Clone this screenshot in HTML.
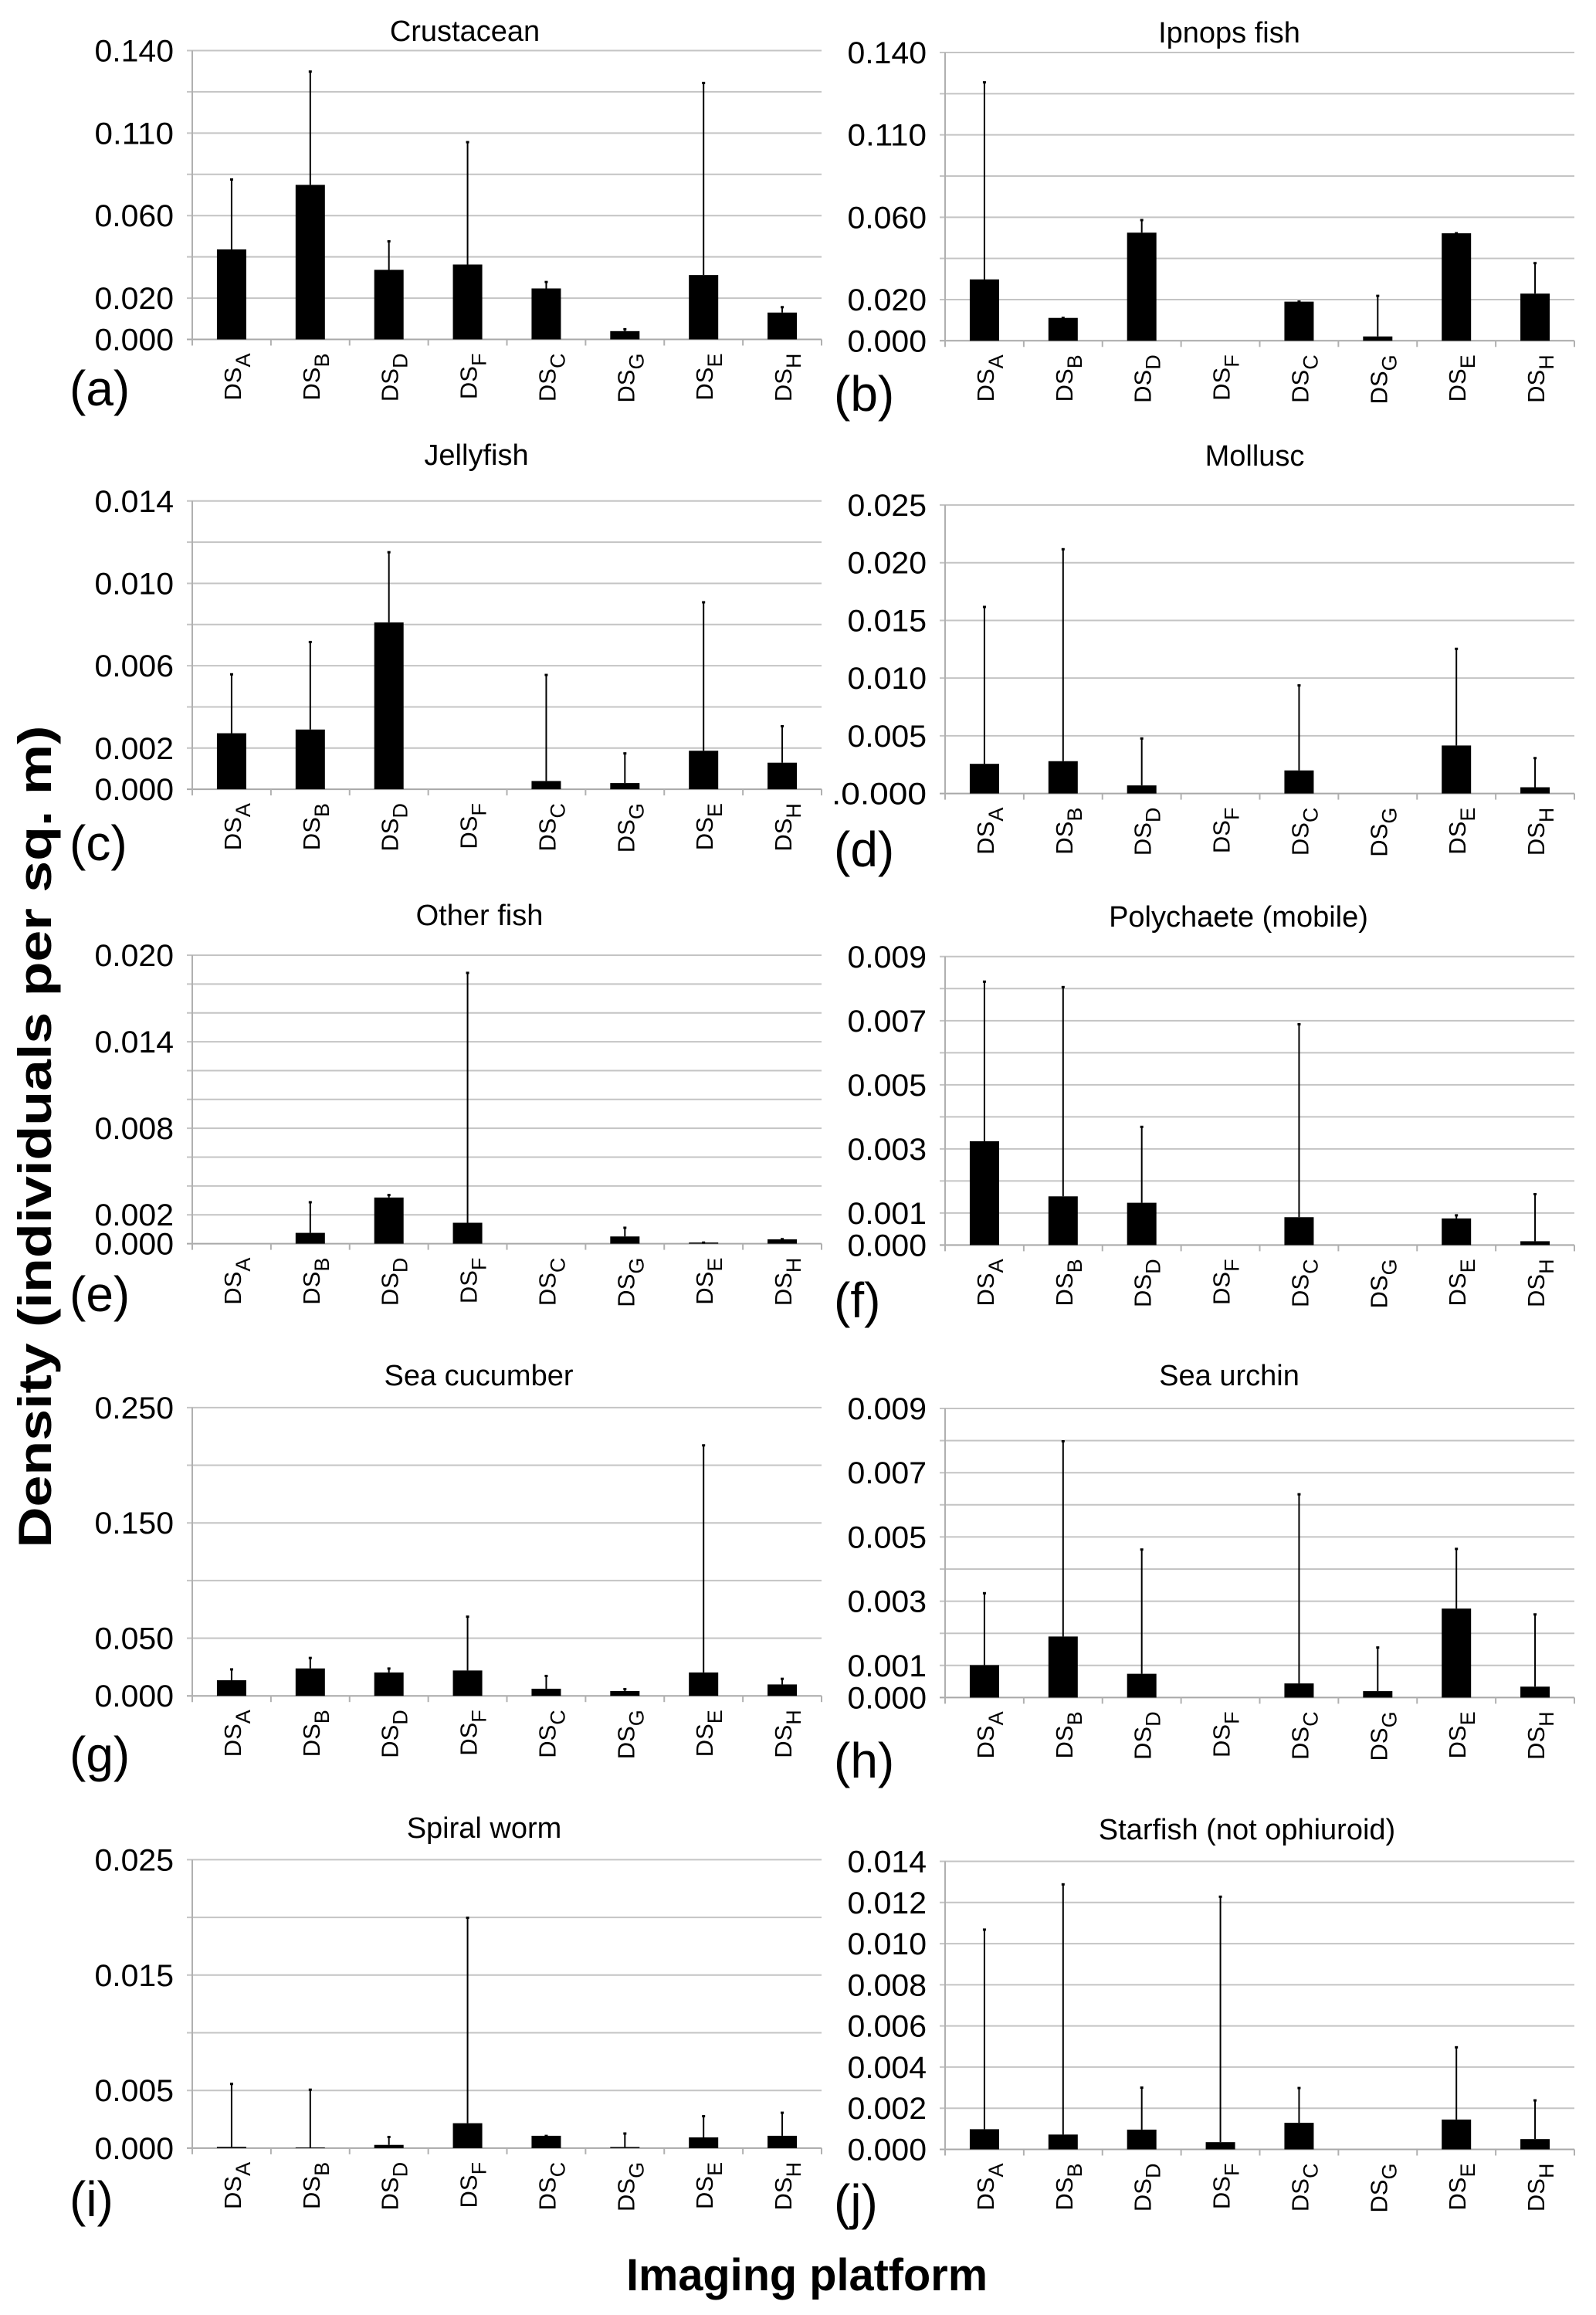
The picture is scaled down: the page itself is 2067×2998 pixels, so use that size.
<!DOCTYPE html>
<html><head><meta charset="utf-8"><style>
html,body{margin:0;padding:0;background:#fff;}
svg{display:block;font-family:"Liberation Sans",Arial,sans-serif;}
</style></head><body>
<svg id="fig" width="2067" height="2998" viewBox="0 0 2067 2998" xmlns="http://www.w3.org/2000/svg">
<text x="0" y="0" transform="translate(66,1472) rotate(-90)" text-anchor="middle" font-size="60" font-weight="bold" textLength="1065" lengthAdjust="spacingAndGlyphs">Density (individuals per sq. m)</text>
<text x="1045" y="2966" text-anchor="middle" font-size="58" font-weight="bold" textLength="468" lengthAdjust="spacingAndGlyphs">Imaging platform</text>
</svg>
<script>
const categories=["A","B","D","F","C","G","E","H"];
const crustaceanMean=[0.0436,0.0749,0.0337,0.0363,0.0247,0.0040,0.0312,0.0130];
const crustaceanTop=[0.0777,0.1300,0.0477,0.0958,0.0280,0.0051,0.1245,0.0158];
const crustaceanTicks=["0.000","0.020","","0.060","","0.110","","0.140"];
const ipnopsMean=[0.0298,0.0111,0.0525,0,0.0190,0.0021,0.0522,0.0229];
const ipnopsTop=[0.1257,0.0113,0.0588,0,0.0192,0.0220,0.0524,0.0379];
const ipnopsTicks=["0.000","0.020","","0.060","","0.110","","0.140"];
const jellyMean=[0.00272,0.0029,0.0081,0,0.0004,0.0003,0.00187,0.00129];
const jellyTop=[0.0056,0.00717,0.01153,0,0.00557,0.00176,0.0091,0.00308];
const jellyTicks=["0.000","0.002","","0.006","","0.010","","0.014"];
const molluscMean=[0.00257,0.0028,0.0007,0,0.0020,0,0.00416,0.00054];
const molluscTop=[0.0162,0.0212,0.0048,0,0.0094,0,0.01257,0.0031];
const molluscTicks=[".0.000","0.005","0.010","0.015","0.020","0.025"];
const otherFishMean=[0,0.00075,0.0032,0.00145,0,0.0005,0.00008,0.0003];
const otherFishTop=[0,0.0029,0.0034,0.0188,0,0.00113,0.0001,0.00034];
const otherFishTicks=["0.000","0.002","","","0.008","","","0.014","","","0.020"];
const polyMean=[0.00324,0.00152,0.00132,0,0.00087,0,0.00083,0.00012];
const polyTop=[0.00823,0.00806,0.0037,0,0.0069,0,0.00094,0.0016];
const polyTicks=["0.000","0.001","","0.003","","0.005","","0.007","","0.009"];
const cucumberMean=[0.0136,0.0238,0.0203,0.022,0.0062,0.0042,0.0203,0.0099];
const cucumberTop=[0.0233,0.0332,0.024,0.069,0.0176,0.0062,0.2176,0.0151];
const cucumberTicks=["0.000","0.050","","0.150","","0.250"];
const urchinMean=[0.00101,0.0019,0.00074,0,0.00044,0.0002,0.00277,0.00034];
const urchinTop=[0.00326,0.00799,0.00462,0,0.00634,0.00157,0.00464,0.0026];
const urchinTicks=["0.000","0.001","","0.003","","0.005","","0.007","","0.009"];
const spiralMean=[0.00011,0.00006,0.00028,0.00216,0.00107,0.0001,0.00093,0.00107];
const spiralTop=[0.0056,0.0051,0.0010,0.0200,0.00109,0.0013,0.0028,0.0031];
const spiralTicks=["0.000","0.005","","0.015","","0.025"];
const starMean=[0.00098,0.00072,0.00096,0.00035,0.00129,0,0.00145,0.0005];
const starTop=[0.0107,0.0129,0.00302,0.0123,0.0030,0,0.00498,0.0024];
const starTicks=["0.000","0.002","0.004","0.006","0.008","0.010","0.012","0.014"];

const NS="http://www.w3.org/2000/svg";
const svg=document.getElementById('fig');
function mk(tag,attrs,parent){const e=document.createElementNS(NS,tag);for(const k in attrs)e.setAttribute(k,attrs[k]);(parent||svg).appendChild(e);return e;}

const panels=[
 {id:"crustacean",title:"Crustacean",letter:"(a)",mean:crustaceanMean,top:crustaceanTop,ticks:crustaceanTicks,step:0.02,left:249,y0:65.5,y1:439.5,ty:53,tx:602,ly:503},
 {id:"ipnops",title:"Ipnops fish",letter:"(b)",mean:ipnopsMean,top:ipnopsTop,ticks:ipnopsTicks,step:0.02,left:1224,y0:68,y1:441.3,ty:55,tx:1592,ly:510},
 {id:"jellyfish",title:"Jellyfish",letter:"(c)",mean:jellyMean,top:jellyTop,ticks:jellyTicks,step:0.002,left:249,y0:648.8,y1:1022.1,ty:602,tx:617,ly:1092},
 {id:"mollusc",title:"Mollusc",letter:"(d)",mean:molluscMean,top:molluscTop,ticks:molluscTicks,step:0.005,left:1224,y0:654,y1:1027.6,ty:603,tx:1625,ly:1100},
 {id:"other-fish",title:"Other fish",letter:"(e)",mean:otherFishMean,top:otherFishTop,ticks:otherFishTicks,step:0.002,left:249,y0:1237,y1:1610.6,ty:1198,tx:621,ly:1676},
 {id:"polychaete",title:"Polychaete (mobile)",letter:"(f)",mean:polyMean,top:polyTop,ticks:polyTicks,step:0.001,left:1224,y0:1238.8,y1:1612.4,ty:1200,tx:1604,ly:1684},
 {id:"sea-cucumber",title:"Sea cucumber",letter:"(g)",mean:cucumberMean,top:cucumberTop,ticks:cucumberTicks,step:0.05,left:249,y0:1822.9,y1:2196.2,ty:1794,tx:620,ly:2272},
 {id:"sea-urchin",title:"Sea  urchin",letter:"(h)",mean:urchinMean,top:urchinTop,ticks:urchinTicks,step:0.001,left:1224,y0:1824,y1:2198.4,ty:1794,tx:1592,ly:2280},
 {id:"spiral-worm",title:"Spiral worm",letter:"(i)",mean:spiralMean,top:spiralTop,ticks:spiralTicks,step:0.005,left:249,y0:2408.4,y1:2781.9,ty:2380,tx:627,ly:2848},
 {id:"starfish",title:"Starfish (not ophiuroid)",letter:"(j)",mean:starMean,top:starTop,ticks:starTicks,step:0.002,left:1224,y0:2410.5,y1:2783.5,ty:2382,tx:1615,ly:2852}
];
const PW=815, BW=38;

panels.forEach(p=>{
  const g=mk('g',{});
  
  
  const n=p.ticks.length-1;
  const maxV=p.step*n;
  const yS=v=>p.y1-(v/maxV)*(p.y1-p.y0);
  const catW=PW/categories.length;
  const xC=i=>p.left+catW*(i+0.5);
  p.ticks.forEach((lab,i)=>{
    const y=yS(i*p.step);
    const gl=mk('line',{x1:p.left-7,x2:p.left+PW,y1:y,y2:y,stroke:i===0?'#a8a8a8':'#c4c4c4','stroke-width':2},g);
    
    
    if(lab){
      const t=mk('text',{x:p.left-24,y:y+14,'text-anchor':'end','font-size':40,'textLength':lab.length*20.5,'lengthAdjust':'spacingAndGlyphs'},g);
      t.textContent=lab;
      
      
    }
  });
  const ax=mk('line',{x1:p.left,x2:p.left,y1:p.y0,y2:p.y1+8,stroke:'#b0b0b0','stroke-width':2},g);
  
  
  for(let i=1;i<=categories.length;i++){
    const x=p.left+catW*i;
    const tk=mk('line',{x1:x,x2:x,y1:p.y1,y2:p.y1+8,stroke:'#b0b0b0','stroke-width':2},g);
    
    
  }
  categories.forEach((c,i)=>{
    const v=p.mean[i], e=p.top[i];
    if(v>0){
      const b=mk('rect',{x:xC(i)-BW/2,y:yS(v),width:BW,height:p.y1-yS(v),fill:'#000'},g);
      
      
    }
    if(e>v){
      const l=mk('line',{x1:xC(i),x2:xC(i),y1:yS(v),y2:yS(e),stroke:'#000','stroke-width':2},g);
      
      
      mk('rect',{x:xC(i)-2,y:yS(e)-1,width:4,height:3,fill:'#000'},g);
    }
    const lt=mk('text',{transform:`translate(${xC(i)+12},${p.y1+18}) rotate(-90)`,'text-anchor':'end','font-size':31},g);
    
    
    const t1=mk('tspan',{},lt); t1.textContent='DS';
    const t2=mk('tspan',{dy:12,'font-size':27},lt); t2.textContent=c;
  });
  const tt=mk('text',{x:p.tx,y:p.ty,'text-anchor':'middle','font-size':38},g);
  tt.textContent=p.title;
  
  
  const lx=p.left<1000?90:1080;
  const lt2=mk('text',{x:lx,y:p.ly+22,'font-size':64},g);
  lt2.textContent=p.letter;
  
  
});
</script>
</body></html>
